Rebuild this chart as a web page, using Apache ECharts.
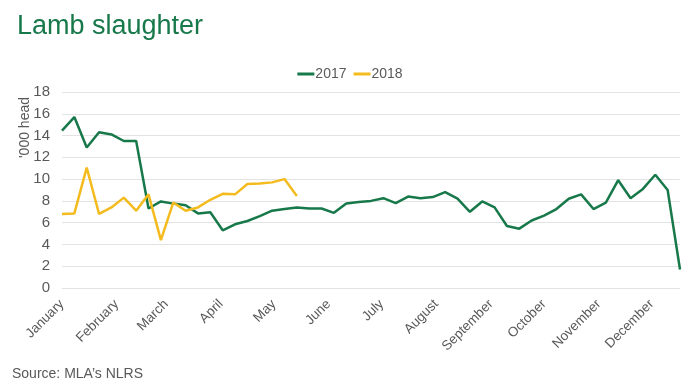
<!DOCTYPE html>
<html>
<head>
<meta charset="utf-8">
<script src="https://cdn.jsdelivr.net/npm/echarts@6/dist/echarts.min.js"></script>
<style>
html,body{margin:0;padding:0;background:#fff;}
#chart{width:700px;height:391px;}
</style>
</head>
<body>
<div id="chart"></div>
<script>
// Weekly lamb slaughter ('000 head), week index 0 = first week of January
const values2017 = [14.45, 15.7, 12.9, 14.3, 14.1, 13.5, 13.5, 7.3, 7.95, 7.75, 7.6, 6.85, 6.95, 5.3, 5.85, 6.15,
  6.6, 7.1, 7.25, 7.4, 7.3, 7.3, 6.9, 7.75, 7.9, 8.0, 8.25, 7.8, 8.4, 8.25, 8.35, 8.8, 8.2, 7.0,
  7.95, 7.4, 5.7, 5.45, 6.2, 6.65, 7.25, 8.2, 8.6, 7.25, 7.85, 9.9, 8.25, 9.1, 10.4, 9.0, 1.7];
const values2018 = [6.8, 6.85, 11.05, 6.8, 7.4, 8.3, 7.1, 8.6, 4.4, 7.85, 7.1, 7.4, 8.1, 8.65, 8.6, 9.55,
  9.6, 9.7, 10.0, 8.45];
const monthNames = ['January','February','March','April','May','June','July','August','September','October','November','December'];
// month start positions in weeks from the first data point (day of year / 7)
const monthTicks = [0, 4.43, 8.43, 12.86, 17.14, 21.57, 25.86, 30.29, 34.71, 39, 43.43, 47.71];
const yTicks = [0, 2, 4, 6, 8, 10, 12, 14, 16, 18];

const green = '#17784a';
const yellow = '#f4bb1e';

const chart = echarts.init(document.getElementById('chart'), null, {renderer: 'canvas'});
chart.setOption({
  animation: false,
  backgroundColor: '#ffffff',
  textStyle: {fontFamily: 'Liberation Sans, Arial, sans-serif'},
  title: {
    text: 'Lamb slaughter',
    left: 12, top: 8,
    textStyle: {color: green, fontSize: 27, fontWeight: 'normal', fontFamily: 'Liberation Sans, Arial, sans-serif'}
  },
  legend: {
    top: 62, left: 'center',
    itemWidth: 17, itemHeight: 3, itemGap: 7,
    icon: 'rect',
    textStyle: {color: '#595959', fontSize: 14, padding: [0,0,0,-4]},
    data: ['2017', '2018']
  },
  grid: {left: 62, right: 20, top: 92, bottom: 103, containLabel: false},
  xAxis: {
    type: 'value', min: 0, max: 50,
    axisLine: {show: false},
    axisTick: {show: false},
    splitLine: {show: false},
    axisLabel: {
      customValues: monthTicks,
      rotate: 45, color: '#595959', fontSize: 13.5, margin: 14,
      formatter: function (v) {
        const i = monthTicks.indexOf(v);
        return i >= 0 ? monthNames[i] : '';
      }
    }
  },
  yAxis: {
    type: 'value', min: yTicks[0], max: yTicks[yTicks.length-1], interval: 2,
    axisLine: {show: false}, axisTick: {show: false},
    axisLabel: {color: '#595959', fontSize: 15, margin: 12},
    splitLine: {lineStyle: {color: '#e3e3e3', width: 1}}
  },
  graphic: [
    {type: 'text', left: 18, top: 97, rotation: Math.PI/2,
      style: {text: "'000 head", fill: '#595959', fontSize: 14, fontFamily: 'Liberation Sans, Arial, sans-serif'}},
    {type: 'text', left: 12, top: 367,
      style: {text: "Source: MLA\u2019s NLRS", fill: '#595959', fontSize: 14, fontFamily: 'Liberation Sans, Arial, sans-serif'}}
  ],
  series: [
    {name: '2017', type: 'line', showSymbol: false, symbol: 'none',
      lineStyle: {color: green, width: 2.5}, itemStyle: {color: green},
      data: values2017.map((v, i) => [i, v])},
    {name: '2018', type: 'line', showSymbol: false, symbol: 'none',
      lineStyle: {color: yellow, width: 2.5}, itemStyle: {color: yellow},
      data: values2018.map((v, i) => [i, v])}
  ]
});
</script>
</body>
</html>
